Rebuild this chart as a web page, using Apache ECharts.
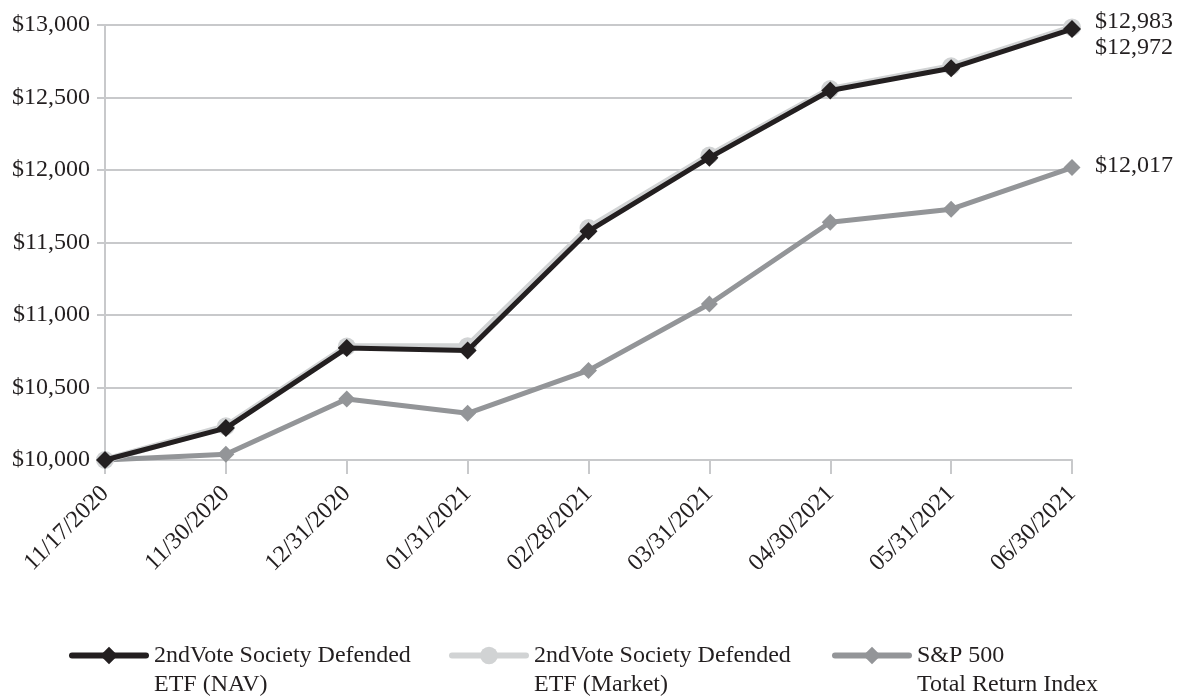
<!DOCTYPE html>
<html>
<head>
<meta charset="utf-8">
<script src="https://cdn.jsdelivr.net/npm/echarts@6/dist/echarts.min.js"></script>
<style>
  html, body { margin: 0; padding: 0; background: #fff; }
  #chart { width: 1180px; height: 698px; }
</style>
</head>
<body>
<div id="chart"></div>
<script>
// 数据
var dates = ["11/17/2020", "11/30/2020", "12/31/2020", "01/31/2021", "02/28/2021",
  "03/31/2021", "04/30/2021", "05/31/2021", "06/30/2021"];
var navData = [10000, 10220, 10772, 10755, 11578, 12085, 12548, 12702, 12972];
var marketData = [10000, 10232, 10782, 10785, 11600, 12100, 12558, 12715, 12983];
var spData = [10000, 10040, 10420, 10322, 10618, 11076, 11640, 11730, 12017];
var seriesNames = [
  "2ndVote Society Defended\nETF (NAV)",
  "2ndVote Society Defended\nETF (Market)",
  "S&P 500\nTotal Return Index",
];

var font = "'Liberation Serif', 'Times New Roman', serif";
var textColor = "#231f20";
var gridColor = "#c8c9cb";
var fs = 24;

var fmt = function (v) {
  return "$" + Math.round(v).toString().replace(/\B(?=(\d{3})+(?!\d))/g, ",");
};

var chart = echarts.init(document.getElementById("chart"));

// 图例，每项单独放置；首行与图标对齐
var legendBase = function (name, left) {
  return {
    data: [name],
    left: left,
    top: 612,
    padding: 0,
    itemWidth: 74,
    itemHeight: 22,
    selectedMode: false,
    formatter: function (n) {
      return "\n" + n;
    },
    lineStyle: { width: 6, cap: "round" },
    textStyle: {
      fontFamily: font,
      fontSize: fs,
      color: textColor,
      lineHeight: 29,
      padding: [0, 0, 0, 3],
    },
  };
};

var endLabel = function (dy) {
  return {
    show: true,
    distance: 23,
    offset: [0, dy],
    fontFamily: font,
    fontSize: fs,
    color: textColor,
    formatter: function (p) { return fmt(p.value); },
  };
};

var option = {
  animation: false,
  backgroundColor: "#fff",
  grid: {
    left: 105,
    right: 108,
    top: 25,
    bottom: 238,
  },
  legend: [
    legendBase(seriesNames[0], 69),
    legendBase(seriesNames[1], 449),
    legendBase(seriesNames[2], 832),
  ],
  xAxis: {
    type: "category",
    boundaryGap: false,
    data: dates,
    axisLine: { show: true, lineStyle: { color: gridColor, width: 2 } },
    axisTick: {
      show: true,
      alignWithLabel: true,
      length: 14,
      lineStyle: { color: gridColor, width: 2 },
    },
    axisLabel: {
      rotate: 45,
      margin: 30,
      interval: 0,
      fontFamily: font,
      fontSize: fs,
      color: textColor,
    },
    splitLine: { show: false },
  },
  yAxis: {
    type: "value",
    min: 10000,
    max: 13000,
    interval: 500,
    axisLine: { show: true, lineStyle: { color: gridColor, width: 2 } },
    axisTick: { show: true, length: 8, lineStyle: { color: gridColor, width: 2 } },
    axisLabel: {
      margin: 15,
      fontFamily: font,
      fontSize: fs,
      color: textColor,
      formatter: fmt,
    },
    splitLine: { show: true, lineStyle: { color: gridColor, width: 2 } },
  },
  series: [
    {
      name: seriesNames[0],
      type: "line",
      data: navData,
      z: 4,
      symbol: "diamond",
      symbolSize: 18,
      color: "#231f20",
      lineStyle: { color: "#231f20", width: 5 },
      itemStyle: { color: "#231f20" },
      endLabel: endLabel(19),
    },
    {
      name: seriesNames[1],
      type: "line",
      data: marketData,
      z: 3,
      symbol: "circle",
      symbolSize: 18,
      color: "#d1d3d4",
      lineStyle: { color: "#d1d3d4", width: 6.5 },
      itemStyle: { color: "#d1d3d4" },
      endLabel: endLabel(-6),
    },
    {
      name: seriesNames[2],
      type: "line",
      data: spData,
      z: 2,
      symbol: "diamond",
      symbolSize: 17,
      color: "#939598",
      lineStyle: { color: "#939598", width: 5 },
      itemStyle: { color: "#939598" },
      endLabel: endLabel(-2),
    },
  ],
};

chart.setOption(option);
window.addEventListener("resize", function () {
  chart.resize();
});
</script>
</body>
</html>
